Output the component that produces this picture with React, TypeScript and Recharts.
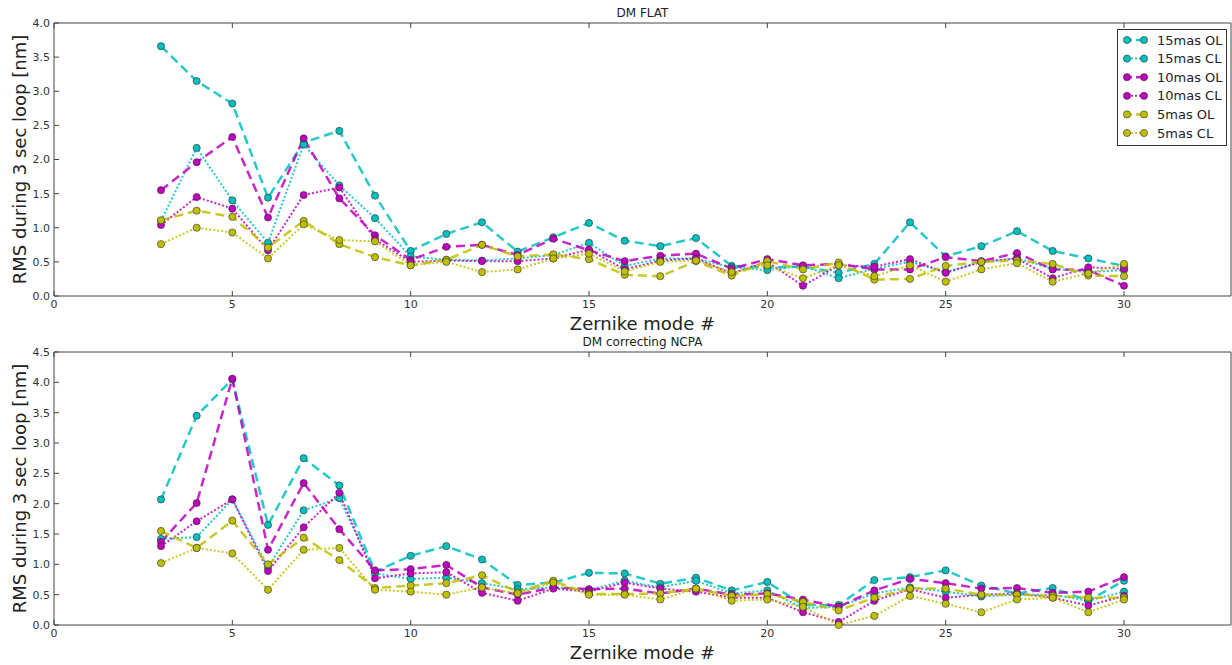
import { Label, Line, LineChart, XAxis, YAxis } from 'recharts';

// Zernike modes on the x axis
const modes = [3, 4, 5, 6, 7, 8, 9, 10, 11, 12, 13, 14, 15, 16, 17, 18, 19, 20, 21, 22, 23, 24, 25, 26, 27, 28, 29, 30];

// DM FLAT
const flatOl15 = [3.66, 3.15, 2.82, 1.44, 2.25, 2.42, 1.47, 0.66, 0.91, 1.08, 0.65, 0.86, 1.07, 0.81, 0.73, 0.85, 0.44, 0.42, 0.43, 0.34, 0.47, 1.08, 0.58, 0.73, 0.95, 0.66, 0.55, 0.44];
const flatCl15 = [1.1, 2.17, 1.4, 0.78, 2.22, 1.62, 1.14, 0.58, 0.53, 0.52, 0.55, 0.6, 0.78, 0.44, 0.55, 0.55, 0.42, 0.38, 0.44, 0.26, 0.4, 0.5, 0.35, 0.5, 0.55, 0.4, 0.35, 0.38];
const flatOl10 = [1.55, 1.96, 2.33, 1.15, 2.31, 1.43, 0.89, 0.53, 0.72, 0.75, 0.6, 0.84, 0.67, 0.51, 0.59, 0.62, 0.4, 0.54, 0.45, 0.47, 0.39, 0.39, 0.57, 0.51, 0.63, 0.39, 0.38, 0.15];
const flatCl10 = [1.04, 1.45, 1.28, 0.67, 1.48, 1.59, 0.83, 0.5, 0.52, 0.51, 0.51, 0.55, 0.68, 0.39, 0.52, 0.55, 0.33, 0.5, 0.15, 0.45, 0.43, 0.54, 0.34, 0.5, 0.55, 0.26, 0.42, 0.4];
const flatOl5 = [1.11, 1.25, 1.16, 0.71, 1.1, 0.76, 0.57, 0.45, 0.53, 0.75, 0.58, 0.61, 0.54, 0.31, 0.29, 0.51, 0.3, 0.51, 0.39, 0.49, 0.24, 0.25, 0.44, 0.5, 0.52, 0.47, 0.3, 0.29];
const flatCl5 = [0.76, 1.0, 0.93, 0.55, 1.05, 0.82, 0.8, 0.45, 0.5, 0.35, 0.39, 0.55, 0.62, 0.36, 0.5, 0.52, 0.35, 0.45, 0.26, 0.45, 0.29, 0.45, 0.21, 0.39, 0.48, 0.21, 0.33, 0.47];

// DM correcting NCPA
const ncpaOl15 = [2.07, 3.45, 4.05, 1.65, 2.75, 2.3, 0.88, 1.14, 1.3, 1.08, 0.66, 0.7, 0.86, 0.85, 0.68, 0.78, 0.57, 0.71, 0.33, 0.33, 0.74, 0.79, 0.9, 0.65, 0.52, 0.61, 0.4, 0.73];
const ncpaCl15 = [1.42, 1.45, 2.07, 0.95, 1.89, 2.09, 0.85, 0.76, 0.78, 0.69, 0.59, 0.62, 0.58, 0.73, 0.62, 0.73, 0.52, 0.57, 0.28, 0.3, 0.52, 0.62, 0.55, 0.47, 0.5, 0.5, 0.4, 0.55];
const ncpaOl10 = [1.37, 2.01, 4.06, 1.24, 2.34, 1.58, 0.9, 0.92, 0.99, 0.62, 0.5, 0.62, 0.59, 0.6, 0.52, 0.6, 0.5, 0.52, 0.42, 0.3, 0.57, 0.76, 0.69, 0.6, 0.61, 0.53, 0.55, 0.79];
const ncpaCl10 = [1.3, 1.71, 2.07, 0.89, 1.61, 2.18, 0.77, 0.85, 0.87, 0.53, 0.4, 0.6, 0.55, 0.7, 0.6, 0.55, 0.45, 0.45, 0.21, 0.05, 0.4, 0.59, 0.45, 0.5, 0.52, 0.45, 0.32, 0.48];
const ncpaOl5 = [1.55, 1.27, 1.72, 1.0, 1.44, 1.07, 0.61, 0.65, 0.69, 0.82, 0.54, 0.73, 0.51, 0.51, 0.52, 0.6, 0.48, 0.51, 0.38, 0.24, 0.45, 0.6, 0.6, 0.5, 0.5, 0.48, 0.45, 0.45];
const ncpaCl5 = [1.02, 1.27, 1.18, 0.58, 1.24, 1.27, 0.58, 0.55, 0.5, 0.62, 0.52, 0.7, 0.5, 0.5, 0.42, 0.6, 0.4, 0.42, 0.3, 0.0, 0.15, 0.48, 0.35, 0.21, 0.42, 0.45, 0.21, 0.42];

const xTicks = [0, 5, 10, 15, 20, 25, 30];
const flatYTicks = [0, 0.5, 1, 1.5, 2, 2.5, 3, 3.5, 4];
const ncpaYTicks = [0, 0.5, 1, 1.5, 2, 2.5, 3, 3.5, 4, 4.5];

const CYAN = '#00bfbf';
const MAGENTA = '#bf00bf';
const YELLOW = '#bfbf00';
const DASHED = '9 5';
const DOTTED = '2 2';

const series = [
  { key: 'ol15', name: '15mas OL', color: CYAN, dash: DASHED },
  { key: 'cl15', name: '15mas CL', color: CYAN, dash: DOTTED },
  { key: 'ol10', name: '10mas OL', color: MAGENTA, dash: DASHED },
  { key: 'cl10', name: '10mas CL', color: MAGENTA, dash: DOTTED },
  { key: 'ol5', name: '5mas OL', color: YELLOW, dash: DASHED },
  { key: 'cl5', name: '5mas CL', color: YELLOW, dash: DOTTED },
];

const buildRows = (cols: number[][]) =>
  modes.map((mode, i) => ({
    mode,
    ol15: cols[0][i],
    cl15: cols[1][i],
    ol10: cols[2][i],
    cl10: cols[3][i],
    ol5: cols[4][i],
    cl5: cols[5][i],
  }));

const flatRows = buildRows([flatOl15, flatCl15, flatOl10, flatCl10, flatOl5, flatCl5]);
const ncpaRows = buildRows([ncpaOl15, ncpaCl15, ncpaOl10, ncpaCl10, ncpaOl5, ncpaCl5]);

const FONT = 'DejaVu Sans, sans-serif';
const FRAME = '#444';
const tickStyle = { fill: '#333', fontSize: 11, fontFamily: FONT };

// legend box drawn over the top panel, matplotlib style (two markers per sample)
function LegendBox() {
  return (
    <svg width={110} height={117} style={{ position: 'absolute', left: 1117, top: 29, display: 'block' }}>
      <rect x={0.5} y={0.5} width={109} height={116} fill="#fff" stroke="#333" strokeWidth={1} />
      {series.map((s, i) => {
        const y = 11 + i * 18.6;
        return (
          <g key={s.key}>
            <line x1={10} x2={27} y1={y} y2={y} stroke={s.color} strokeOpacity={0.85} strokeWidth={s.dash === DASHED ? 2.5 : 2} strokeDasharray={s.dash === DASHED ? '5 4' : '2 2'} />
            <circle cx={10} cy={y} r={3.6} fill={s.color} stroke="#333" strokeWidth={0.6} />
            <circle cx={27} cy={y} r={3.6} fill={s.color} stroke="#333" strokeWidth={0.6} />
            <text x={40} y={y} dominantBaseline="central" fontSize={13} fontFamily={FONT} fill="#222">
              {s.name}
            </text>
          </g>
        );
      })}
    </svg>
  );
}

interface PanelProps {
  rows: ReturnType<typeof buildRows>;
  title: string;
  yMax: number;
  yTicks: number[];
  height: number;
  top: number;
  xAxisHeight: number;
}

function Panel({ rows, title, yMax, yTicks, height, top, xAxisHeight }: PanelProps) {
  return (
    <LineChart width={1232} height={height} data={rows} margin={{ top: top - 1, right: 0, bottom: 0, left: 0 }} style={{ display: 'block' }}>
      <XAxis
        dataKey="mode"
        type="number"
        domain={[0, 33]}
        ticks={xTicks}
        height={xAxisHeight}
        stroke={FRAME}
        tickSize={-5}
        tickMargin={9}
        tick={tickStyle}
        interval={0}
      >
        <Label
          content={(p: any) => (
            <text x={p.viewBox.x + p.viewBox.width / 2} y={p.viewBox.y + 27} textAnchor="middle" dominantBaseline="central" fontSize={18} fontFamily={FONT} fill="#222">
              Zernike mode #
            </text>
          )}
        />
      </XAxis>
      <XAxis xAxisId="top" orientation="top" dataKey="mode" type="number" domain={[0, 33]} ticks={xTicks} height={1} stroke={FRAME} tickSize={-5} tickFormatter={() => ''} interval={0}>
        <Label
          content={(p: any) => (
            <text x={p.viewBox.x + p.viewBox.width / 2} y={p.viewBox.y - 9} textAnchor="middle" dominantBaseline="central" fontSize={12} fontFamily={FONT} fill="#222">
              {title}
            </text>
          )}
        />
      </XAxis>
      <YAxis
        type="number"
        domain={[0, yMax]}
        ticks={yTicks}
        width={54}
        stroke={FRAME}
        tickSize={-5}
        tickMargin={9}
        tick={tickStyle}
        tickFormatter={(v: number) => v.toFixed(1)}
        interval={0}
      >
        <Label
          content={(p: any) => {
            const cx = 19;
            const cy = p.viewBox.y + p.viewBox.height / 2;
            return (
              <text x={cx} y={cy} transform={`rotate(-90 ${cx} ${cy})`} textAnchor="middle" dominantBaseline="central" fontSize={18} fontFamily={FONT} fill="#222">
                RMS during 3 sec loop [nm]
              </text>
            );
          }}
        />
      </YAxis>
      <YAxis yAxisId="right" orientation="right" type="number" domain={[0, yMax]} ticks={yTicks} width={1} stroke={FRAME} tickSize={-5} tickFormatter={() => ''} interval={0} />
      {series.map((s) => (
        <Line
          key={s.key}
          dataKey={s.key}
          name={s.name}
          type="linear"
          stroke={s.color}
          strokeOpacity={0.85}
          strokeWidth={s.dash === DASHED ? 2.5 : 2}
          strokeDasharray={s.dash}
          dot={{ r: 3.6, fill: s.color, stroke: '#333', strokeWidth: 0.6, strokeDasharray: '', fillOpacity: 1, strokeOpacity: 1 }}
          activeDot={false}
          isAnimationActive={false}
        />
      ))}
    </LineChart>
  );
}

export default function App() {
  return (
    <div style={{ position: 'absolute', left: 0, top: 0, width: 1232, height: 665, background: '#fff', fontFamily: FONT }}>
      <Panel rows={flatRows} title="DM FLAT" yMax={4} yTicks={flatYTicks} height={336} top={23} xAxisHeight={40} />
      <Panel rows={ncpaRows} title="DM correcting NCPA" yMax={4.5} yTicks={ncpaYTicks} height={329} top={16} xAxisHeight={40} />
      <LegendBox />
    </div>
  );
}
